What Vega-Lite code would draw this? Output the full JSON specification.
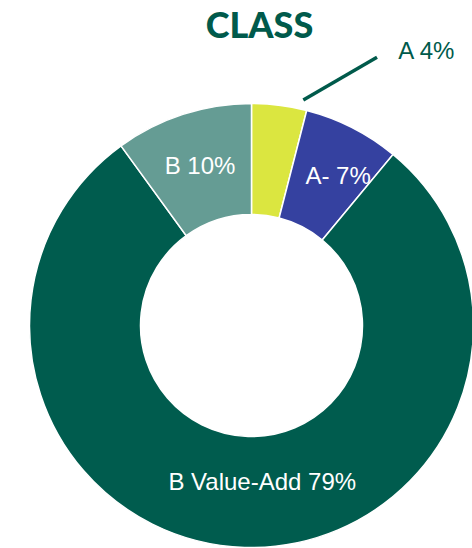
{
  "$schema": "https://vega.github.io/schema/vega-lite/v6.json",
  "autosize": "none",
  "width": 443,
  "height": 443,
  "padding": {"left": 30, "top": 104, "right": 0, "bottom": 0},
  "background": "white",
  "title": {
    "text": "CLASS",
    "font": "Lato",
    "fontWeight": 900,
    "fontSize": 36,
    "color": "#005a4b",
    "anchor": "middle",
    "frame": "group",
    "baseline": "alphabetic",
    "dx": 8,
    "offset": -34
  },
  "datasets": {
    "shares": [
      {"cls": "A", "share": 4, "ord": 1, "label": "A 4%"},
      {"cls": "A-", "share": 7, "ord": 2, "label": "A- 7%"},
      {"cls": "B Value-Add", "share": 79, "ord": 3, "label": "B Value-Add 79%"},
      {"cls": "B", "share": 10, "ord": 4, "label": "B 10%"}
    ],
    "leader": [
      {"x0": 0.2339, "y0": 1.018, "x1": 0.5666, "y1": 1.2108}
    ]
  },
  "config": {"view": {"stroke": null}},
  "layer": [
    {
      "data": {"name": "shares"},
      "mark": {"type": "arc", "outerRadius": 222, "innerRadius": 111, "stroke": "white", "strokeWidth": 1.5},
      "encoding": {
        "theta": {"field": "share", "type": "quantitative", "stack": true},
        "order": {"field": "ord", "type": "quantitative"},
        "color": {
          "field": "cls",
          "type": "nominal",
          "scale": {"domain": ["A", "A-", "B Value-Add", "B"], "range": ["#dbe640", "#3541a0", "#005c4e", "#659c94"]},
          "legend": null
        }
      }
    },
    {
      "data": {"name": "shares"},
      "mark": {"type": "text", "radius": 166.5, "font": "Liberation Sans", "fontSize": 24, "color": "white", "baseline": "middle"},
      "encoding": {
        "theta": {"field": "share", "type": "quantitative", "stack": true},
        "order": {"field": "ord", "type": "quantitative"},
        "text": {"condition": {"test": "datum.cls === 'B'", "field": "label"}, "value": ""}
      }
    },
    {
      "data": {"name": "shares"},
      "mark": {"type": "text", "radius": 166.5, "dx": 11, "font": "Liberation Sans", "fontSize": 24, "color": "white", "baseline": "middle"},
      "encoding": {
        "theta": {"field": "share", "type": "quantitative", "stack": true},
        "order": {"field": "ord", "type": "quantitative"},
        "text": {"condition": {"test": "datum.cls === 'A-'", "field": "label"}, "value": ""}
      }
    },
    {
      "data": {"name": "shares"},
      "mark": {"type": "text", "radius": 166.5, "dx": 16, "dy": -9, "font": "Liberation Sans", "fontSize": 24, "color": "white", "baseline": "middle"},
      "encoding": {
        "theta": {"field": "share", "type": "quantitative", "stack": true},
        "order": {"field": "ord", "type": "quantitative"},
        "text": {"condition": {"test": "datum.cls === 'B Value-Add'", "field": "label"}, "value": ""}
      }
    },
    {
      "data": {"name": "shares"},
      "mark": {"type": "text", "radius": 166.5, "dx": 154, "dy": -108, "font": "Liberation Sans", "fontSize": 24, "color": "#005a4b", "baseline": "middle"},
      "encoding": {
        "theta": {"field": "share", "type": "quantitative", "stack": true},
        "order": {"field": "ord", "type": "quantitative"},
        "text": {"condition": {"test": "datum.cls === 'A'", "field": "label"}, "value": ""}
      }
    },
    {
      "data": {"name": "leader"},
      "mark": {"type": "rule", "color": "#005a4b", "strokeWidth": 3.5},
      "encoding": {
        "x": {"field": "x0", "type": "quantitative", "scale": {"domain": [-1, 1]}, "axis": null},
        "x2": {"field": "x1"},
        "y": {"field": "y0", "type": "quantitative", "scale": {"domain": [-1, 1]}, "axis": null},
        "y2": {"field": "y1"}
      }
    }
  ]
}
